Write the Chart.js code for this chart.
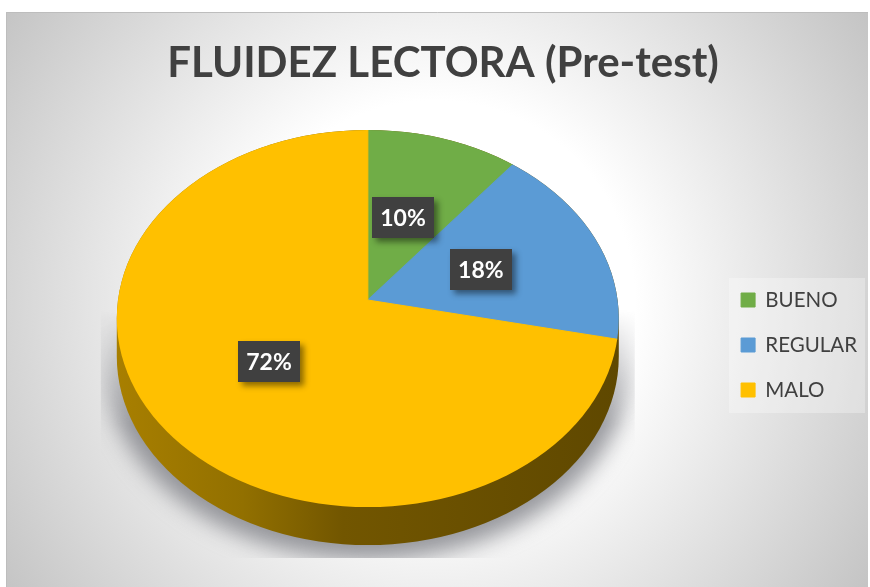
<!DOCTYPE html>
<html><head><meta charset="utf-8">
<style>html,body{margin:0;padding:0;background:#fff}canvas{display:block}</style>
<script src="https://cdn.jsdelivr.net/npm/chart.js@4/dist/chart.umd.min.js"></script>
</head><body><canvas id="c" width="870" height="587"></canvas>
<script>
const categories = ['BUENO', 'REGULAR', 'MALO'];
const values = [10, 18, 72];
const colors = ['#70AD47', '#5B9BD5', '#FFC000'];
const chartTitle = 'FLUIDEZ LECTORA (Pre-test)';

// Tilted-disc look of the original
const TILT_UP = 170 / 251, TILT_DOWN = 207 / 251, RIM_RY = 188.5 / 251, RIM_SHIFT = 18.5 / 251, DEPTH = 38;
const LABEL_F = 0.96;
const LABEL_NUDGE = [[-2, -5], [1, 0], [-6, -2]];
const LEGEND_SHIFT = { x: 2, y: 95 };

function rimPath(ctx, cx, cy, R) {
  ctx.beginPath();
  ctx.ellipse(cx, cy + R * RIM_SHIFT, R, R * RIM_RY, 0, 0, Math.PI * 2);
}
function hullPath(ctx, cx, cy, R, d) {
  const ey = cy + R * RIM_SHIFT, ry = R * RIM_RY;
  ctx.beginPath();
  ctx.ellipse(cx, ey, R, ry, 0, Math.PI, Math.PI * 2);
  ctx.ellipse(cx, ey + d, R, ry, 0, 0, Math.PI);
  ctx.closePath();
}

const backdrop = {
  id: 'backdrop',
  beforeDraw(chart) {
    const c = chart.ctx, W = chart.width, H = chart.height;
    c.save();
    c.fillStyle = '#fff'; c.fillRect(0, 0, W, H);
    const g = c.createRadialGradient(435, 300, 0, 435, 300, 525);
    g.addColorStop(0, '#ffffff'); g.addColorStop(0.38, '#ffffff'); g.addColorStop(1, '#c3c3c3');
    c.fillStyle = g; c.fillRect(6, 12, 862, H - 12);
    c.strokeStyle = '#bdbdbd'; c.lineWidth = 1;
    c.beginPath(); c.moveTo(6.5, H); c.lineTo(6.5, 12.5); c.lineTo(868, 12.5); c.stroke();
    const l = chart.legend;
    if (l && l.columnSizes && l.columnSizes[0]) {
      const h = 135, top = Math.round((l.top + l.bottom) / 2 - h / 2);
      c.fillStyle = 'rgba(255,255,255,0.3)';
      c.fillRect(729, top, 136, h);
    }
    c.restore();
  },
  afterLayout(chart) {
    const l = chart.legend;
    if (l) { l.left += LEGEND_SHIFT.x; l.right += LEGEND_SHIFT.x; l.top += LEGEND_SHIFT.y; l.bottom += LEGEND_SHIFT.y; }
  }
};

const tilt = {
  id: 'tilt',
  beforeDatasetDraw(chart, args) {
    const c = chart.ctx, arcs = args.meta.data;
    const cx = arcs[0].x, cy = arcs[0].y, R = arcs[0].outerRadius;
    // soft cast shadow
    const off = document.createElement('canvas');
    off.width = chart.width; off.height = chart.height;
    const o = off.getContext('2d');
    o.filter = 'blur(11px)';
    o.fillStyle = 'rgba(125,126,132,0.8)';
    hullPath(o, cx, cy, R + 12, DEPTH + 5);
    o.fill();
    o.filter = 'none';
    o.globalCompositeOperation = 'destination-in';
    const m = o.createLinearGradient(0, cy + 10, 0, cy + 125);
    m.addColorStop(0, 'rgba(0,0,0,0)'); m.addColorStop(1, 'rgba(0,0,0,1)');
    o.fillStyle = m; o.fillRect(0, 0, off.width, off.height);
    c.save();
    c.beginPath(); c.rect(cx - R - 16, cy, 2 * R + 32, R + 7); c.clip();
    c.drawImage(off, 0, 0);
    c.restore();
    // side wall
    const g = c.createLinearGradient(cx - R, 0, cx + R, 0);
    g.addColorStop(0, '#a87f00'); g.addColorStop(0.25, '#927000');
    g.addColorStop(0.45, '#725600'); g.addColorStop(1, '#5f4800');
    c.save(); c.fillStyle = g; hullPath(c, cx, cy, R, DEPTH); c.fill(); c.restore();
    // top face: the library's arcs under the tilt
    const Z = 1.15;
    [[TILT_UP, cy - R * 2, cy], [TILT_DOWN, cy, cy + R * 2]].forEach(([s, y0, y1]) => {
      c.save();
      rimPath(c, cx, cy, R); c.clip();
      c.beginPath(); c.rect(cx - R * 2, y0, R * 4, y1 - y0); c.clip();
      c.translate(cx, cy); c.scale(Z, s * Z); c.translate(-cx, -cy);
      arcs.forEach(a => a.draw(c));
      c.restore();
    });
    return false;
  },
  afterDatasetsDraw(chart) {
    const c = chart.ctx, meta = chart.getDatasetMeta(0), total = values.reduce((a, b) => a + b, 0);
    c.save();
    c.font = 'bold 23px Lato';
    c.textAlign = 'center'; c.textBaseline = 'middle';
    meta.data.forEach((a, i) => {
      const p = a.getCenterPoint();
      const dx = (p.x - a.x) * LABEL_F, dy = (p.y - a.y) * LABEL_F;
      const x = a.x + dx + LABEL_NUDGE[i][0], y = a.y + dy * (dy < 0 ? TILT_UP : TILT_DOWN) + LABEL_NUDGE[i][1];
      const t = Math.round(values[i] / total * 100) + '%';
      const w = c.measureText(t).width + 16, h = 41;
      c.save();
      c.shadowColor = 'rgba(0,0,0,0.45)'; c.shadowBlur = 6; c.shadowOffsetX = 4; c.shadowOffsetY = 4;
      c.fillStyle = '#404040';
      c.fillRect(Math.round(x - w / 2), Math.round(y - h / 2), Math.round(w), h);
      c.restore();
      c.fillStyle = '#fff';
      c.fillText(t, x, y + 1);
    });
    c.restore();
  }
};

new Chart(document.getElementById('c'), {
  type: 'pie',
  data: { labels: categories, datasets: [{ data: values, backgroundColor: colors, borderColor: colors, borderWidth: 1, radius: 251 }] },
  plugins: [backdrop, tilt],
  options: {
    responsive: false, animation: false, devicePixelRatio: 1,
    layout: { padding: { left: 21, right: 5, top: 0, bottom: 87 } },
    plugins: {
      tooltip: { enabled: false },
      title: {
        display: true, text: chartTitle, color: '#404040',
        font: { family: 'Lato', size: 42, weight: 'bold' },
        padding: { top: 38, bottom: 11.6 }
      },
      legend: {
        position: 'right',
        labels: { color: '#404040', font: { family: 'Lato', size: 20.5 }, boxWidth: 14, boxHeight: 14, padding: 24.5 }
      }
    }
  }
});
</script></body></html>
